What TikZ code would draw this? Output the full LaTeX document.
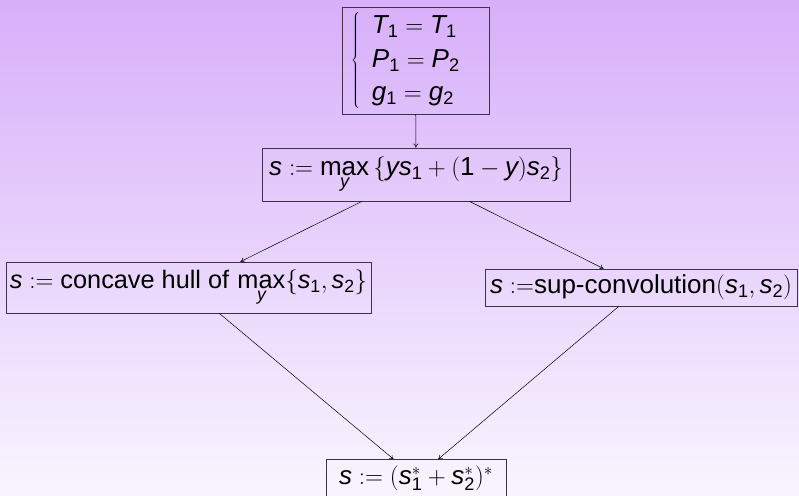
\documentclass[tikz,border=0pt]{standalone}
\usepackage[no-math]{fontspec}
\setmainfont{Liberation Sans}[NFSSFamily=slidesans]
\usetikzlibrary{arrows.meta, positioning}
\usepackage{xcolor}
\definecolor{SlideTop}{RGB}{215,175,250}
\definecolor{SlideBottom}{RGB}{249,245,254}
\definecolor{BoxLine}{RGB}{60,52,70}
\renewcommand{\arraystretch}{1.07}

% sans letters and digits in formulas
\DeclareSymbolFont{sfit}{TU}{slidesans}{m}{it}
\DeclareSymbolFont{sfup}{TU}{slidesans}{m}{n}
\DeclareSymbolFontAlphabet{\mathsfup}{sfup}
\DeclareMathSymbol{s}{\mathalpha}{sfit}{`s}
\DeclareMathSymbol{y}{\mathalpha}{sfit}{`y}
\DeclareMathSymbol{g}{\mathalpha}{sfit}{`g}
\DeclareMathSymbol{T}{\mathalpha}{sfit}{`T}
\DeclareMathSymbol{P}{\mathalpha}{sfit}{`P}
\DeclareMathSymbol{1}{\mathord}{sfup}{`1}
\DeclareMathSymbol{2}{\mathord}{sfup}{`2}
\renewcommand{\max}{\mathop{\mathsfup{max}}}

\begin{document}
\begin{tikzpicture}[x=1pt, y=1pt,
            stepbox/.style={rectangle, draw=BoxLine, line width=0.7pt, inner sep=2pt, align=center, font=\fontsize{26}{31}\selectfont},
            arrow/.style={-{To[length=4pt, width=5pt]}, line width=0.5pt, color=black}
        ]
            % Slide background
            \shade[top color=SlideTop, bottom color=SlideBottom] (0,0) rectangle (799,495);
            \useasboundingbox (0,0) rectangle (799,495);

            % Conditions
            \node[stepbox, minimum width=147pt, minimum height=107pt] (cond) at (415.5,434.5) {$\left\{\;\begin{array}{l} T_1 = T_1\\ P_1 = P_2\\ g_1 = g_2\end{array}\right.\hspace{14pt}$};

            % Mixing step
            \node[stepbox, minimum width=308pt, minimum height=53pt] (mix) at (416,320.5) {$\displaystyle s := \max_y \left\{ys_1 + (1 - y)s_2\right\}$};

            % Two ways
            \node[stepbox, minimum width=365pt, minimum height=51pt, font=\fontsize{25.3}{31}\selectfont] (hull) at (188.5,207.5) {$\displaystyle s := \mbox{concave hull of}\,\max_y\{s_1, s_2\}$};
            \node[stepbox, minimum width=312pt, minimum height=37pt] (supconv) at (641,207.5) {$s :=$sup-convolution$(s_1, s_2)$};

            % Result
            \node[stepbox, minimum width=180pt, minimum height=37pt] (dual) at (416,17) {$s := (s_1^* + s_2^*)^*$};

            % Connections
            \draw[arrow] (cond) -- (mix);
            \draw[arrow] (mix) -- (hull);
            \draw[arrow] (mix) -- (supconv);
            \draw[arrow] (hull) -- (dual);
            \draw[arrow] (supconv) -- (dual);
        \end{tikzpicture}
\end{document}
